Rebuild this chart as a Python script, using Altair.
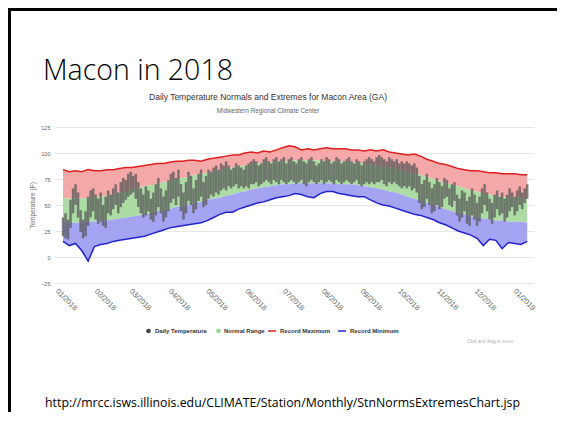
import json
import altair as alt
import pandas as pd

# ---------------- data ----------------
# records & normals, one value every 5 days starting 01 Jan 2018 (day 0)
grid_days = list(range(0, 371, 5))
record_max = [84, 82, 83, 82, 84, 83, 83, 84, 84, 85,
              86, 86, 87, 88, 89, 90, 90, 91, 92, 92,
              93, 93, 92, 94, 95, 96, 97, 98, 98, 100,
              101, 100, 102, 101, 103, 105, 107, 106, 103, 104,
              103, 104, 105, 104, 104, 104, 103, 103, 102, 103,
              102, 103, 101, 100, 99, 98, 99, 97, 94, 92,
              90, 89, 87, 85, 84, 83, 83, 82, 81, 81,
              80, 80, 80, 79, 79]
record_min = [15, 11, 13, 6, -4, 10, 12, 13, 15, 16,
              17, 18, 19, 20, 22, 24, 26, 28, 29, 30,
              31, 32, 33, 35, 38, 41, 43, 43, 46, 48,
              50, 52, 53, 55, 57, 58, 59, 61, 60, 58,
              57, 61, 63, 63, 61, 60, 59, 58, 58, 55,
              52, 50, 49, 47, 45, 43, 41, 40, 38, 36,
              33, 31, 28, 25, 23, 21, 18, 11, 17, 16,
              8, 14, 13, 12, 15]
normal_high = [57, 56, 56, 56, 57, 58, 58, 59, 60, 62,
               63, 65, 66, 68, 69, 70, 72, 73, 75, 76,
               77, 79, 80, 81, 82, 84, 85, 86, 87, 88,
               89, 90, 91, 91, 92, 92, 92, 93, 93, 93,
               93, 93, 92, 92, 92, 92, 91, 91, 90, 89,
               88, 87, 86, 85, 83, 82, 80, 79, 77, 75,
               73, 71, 70, 68, 66, 64, 63, 61, 60, 59,
               58, 57, 57, 57, 56]
normal_low = [34, 33, 33, 33, 34, 34, 35, 35, 36, 37,
              38, 39, 40, 41, 42, 44, 45, 46, 48, 49,
              50, 52, 53, 55, 56, 57, 59, 60, 62, 63,
              65, 66, 67, 68, 69, 70, 70, 71, 71, 71,
              71, 71, 71, 71, 70, 70, 70, 69, 68, 67,
              66, 65, 63, 62, 60, 58, 56, 54, 52, 50,
              48, 46, 44, 42, 41, 39, 38, 37, 36, 35,
              35, 34, 34, 34, 33]

# observed daily range, one bar every 2 days starting 01 Jan 2018
obs_days = list(range(0, 371, 2))
daily_high = [38, 42, 36, 55, 66, 70, 62, 45, 36, 44, 58, 64, 66, 60, 56, 62,
              50, 58, 64, 60, 66, 70, 62, 72, 76, 74, 80, 82, 78, 80,
              72, 66, 60, 68, 64, 56, 62, 70, 76, 66, 58, 64, 74, 80, 82,
              76, 84, 70, 62, 72, 82, 78, 66, 74, 80, 84, 72, 78, 84, 82,
              86, 88, 84, 90, 88, 92, 88, 84, 86, 90, 88, 86, 84, 88, 90, 92,
              94, 92, 88, 90, 94, 96, 92, 90, 94, 96, 92, 94, 96, 90, 94,
              96, 92, 90, 94, 96, 92, 90, 94, 96, 92, 88, 90, 94, 92, 96,
              94, 90, 92, 96, 94, 90, 92, 94, 96, 92, 90, 94, 92, 88, 92, 94,
              96, 94, 92, 96, 98, 96, 94, 92, 96, 94, 92, 94, 90, 92, 90,
              92, 90, 88, 90, 86, 78, 70, 74, 80, 72, 66, 70, 76, 72, 68,
              76, 74, 66, 70, 72, 60, 56, 64, 62, 54, 58, 66, 60, 52, 58,
              66, 70, 62, 56, 52, 60, 64, 58, 62, 56, 60, 66, 62, 58, 64, 68, 62, 66, 70]
daily_low = [20, 18, 17, 28, 42, 50, 38, 24, 18, 20, 30, 38, 44, 36, 32, 34,
             30, 28, 42, 40, 46, 50, 42, 48, 52, 55, 58, 60, 62, 56,
             48, 42, 38, 40, 44, 36, 34, 40, 48, 42, 34, 38, 44, 52, 56,
             50, 58, 44, 36, 42, 54, 50, 42, 46, 54, 58, 48, 50, 56, 60,
             58, 62, 60, 64, 66, 64, 68, 66, 68, 70, 66, 68, 66, 68, 66, 70,
             70, 72, 68, 70, 72, 74, 72, 70, 74, 72, 70, 74, 72, 70, 72,
             74, 72, 70, 72, 74, 70, 68, 72, 74, 72, 70, 72, 74, 70, 72,
             74, 72, 70, 74, 72, 70, 72, 74, 72, 70, 72, 74, 70, 68, 70, 72,
             70, 72, 70, 72, 72, 74, 70, 68, 72, 70, 72, 70, 68, 66, 68,
             66, 68, 64, 66, 62, 52, 46, 48, 56, 50, 42, 44, 50, 46, 48,
             56, 58, 50, 48, 54, 40, 34, 38, 44, 32, 30, 40, 36, 30, 34,
             42, 50, 44, 36, 32, 38, 46, 40, 42, 34, 38, 44, 48, 40, 44, 50, 46, 52, 56]

month_tick_days = [0, 31, 59, 90, 120, 151, 181, 212, 243, 273, 304, 334, 365]
month_tick_labels = ["01/2018", "02/2018", "03/2018", "04/2018", "05/2018", "06/2018",
                     "07/2018", "08/2018", "09/2018", "10/2018", "11/2018", "12/2018", "01/2019"]
y_ticks = [-25, 0, 25, 50, 75, 100, 125]

legend_labels = ["Daily Temperature", "Normal Range", "Record Maximum", "Record Minimum"]

# ---------------- tables ----------------
clim = pd.DataFrame({"day": grid_days, "rmax": record_max, "rmin": record_min,
                     "nhi": normal_high, "nlo": normal_low})
obs = pd.DataFrame({"day": obs_days, "hi": daily_high, "lo": daily_low})

W, H = 479, 156
xscale = alt.Scale(domain=[-6.4, 375.4], nice=False, zero=False)
yscale = alt.Scale(domain=[-25, 125], nice=False, zero=False)

label_expr = "%s[indexof(%s, datum.value)]" % (json.dumps(month_tick_labels), json.dumps(month_tick_days))
xaxis = alt.Axis(values=month_tick_days, labelExpr=label_expr, title="")
yaxis = alt.Axis(values=y_ticks, title="Temperature (F)")

X = alt.X("day:Q", scale=xscale, axis=xaxis)


def Y(field):
    return alt.Y(field, scale=yscale, axis=yaxis)


red_fill = alt.Chart(clim).mark_area(color="#f5a8a8", opacity=1).encode(x=X, y=Y("nhi:Q"), y2="rmax:Q")
green_fill = alt.Chart(clim).mark_area(color="#acdca4", opacity=1).encode(x=X, y=Y("nlo:Q"), y2="nhi:Q")
blue_fill = alt.Chart(clim).mark_area(color="#a4a4f2", opacity=1).encode(x=X, y=Y("rmin:Q"), y2="nlo:Q")

bars = alt.Chart(obs).mark_rule(color="#555555", strokeWidth=2.5, opacity=0.72).encode(
    x=X, y=Y("lo:Q"), y2="hi:Q")

red_line = alt.Chart(clim).mark_line(color="#dd2020", strokeWidth=1.5).encode(x=X, y=Y("rmax:Q"))
blue_line = alt.Chart(clim).mark_line(color="#2323cc", strokeWidth=1.5).encode(x=X, y=Y("rmin:Q"))


def txt(s, x, y, size, color, align="left", baseline="middle", font="Liberation Sans", weight="normal"):
    return alt.Chart(pd.DataFrame({"t": [s]})).mark_text(
        align=align, baseline=baseline, fontSize=size, color=color, font=font, fontWeight=weight
    ).encode(x=alt.value(x), y=alt.value(y), text="t:N")


one = pd.DataFrame({"a": [0]})


def box(x1, x2, y1, y2, color):
    return alt.Chart(one).mark_rect(color=color, opacity=1).encode(
        x=alt.value(x1), x2=alt.value(x2), y=alt.value(y1), y2=alt.value(y2))


slide_title = txt("Macon in 2018", -12, -47, 28.5, "#000000", baseline="alphabetic", font="Open Sans", weight=300)
chart_title = txt("Daily Temperature Normals and Extremes for Macon Area (GA)", 213, -30, 8.5, "#333333", align="center")
chart_sub = txt("Midwestern Regional Climate Center", 213, -16, 6.3, "#666666", align="center")
url = txt("http://mrcc.isws.illinois.edu/CLIMATE/Station/Monthly/StnNormsExtremesChart.jsp",
          227.5, 276, 12.3, "#000000", align="center", font="Open Sans")
zoom_note = txt("Click and drag to zoom", 458, 215, 4.5, "#b0b0b0", align="right")

ly = 204
leg_dot1 = alt.Chart(one).mark_point(filled=True, shape="circle", size=22, color="#434348", opacity=1).encode(
    x=alt.value(93.5), y=alt.value(ly))
leg_dot2 = alt.Chart(one).mark_point(filled=True, shape="circle", size=22, color="#93d88c", opacity=1).encode(
    x=alt.value(163.5), y=alt.value(ly))
leg_l1 = box(213, 221, ly - 0.75, ly + 0.75, "#dd2020")
leg_l2 = box(283, 291, ly - 0.75, ly + 0.75, "#2323cc")
leg_t1 = txt(legend_labels[0], 100, ly, 6, "#333333", weight="bold")
leg_t2 = txt(legend_labels[1], 169, ly, 6, "#333333", weight="bold")
leg_t3 = txt(legend_labels[2], 225, ly, 6, "#333333", weight="bold")
leg_t4 = txt(legend_labels[3], 295, ly, 6, "#333333", weight="bold")

border_top = box(-47, 560, -119, -116, "#000000")
border_left = box(-47, -44, -119, 360, "#000000")

chart = alt.layer(
    red_fill, green_fill, blue_fill, bars, red_line, blue_line,
    slide_title, chart_title, chart_sub, url, zoom_note,
    leg_dot1, leg_dot2, leg_l1, leg_l2, leg_t1, leg_t2, leg_t3, leg_t4,
    border_top, border_left,
).properties(
    width=W, height=H,
    autosize=alt.AutoSizeParams(type="none"),
    padding={"left": 47, "top": 119, "right": 23, "bottom": 129},
    background="#ffffff",
).configure_view(
    stroke=None
).configure_axis(
    labelOverlap=False, labelFont="Liberation Sans", titleFont="Liberation Sans",
    labelColor="#666666", titleColor="#666666", titleFontWeight="normal", ticks=False,
).configure_axisX(
    labelAngle=45, labelAlign="left", labelBaseline="top", labelFontSize=7.5, labelPadding=4,
    labelOffset=-4, grid=False, domainColor="#e3e3e3",
).configure_axisY(
    labelFontSize=5.5, labelPadding=5, grid=True, gridColor="#e6e6e6", domain=False,
    titleFontSize=6.5, titlePadding=5,
)

chart.save("out.html", embed_options={"renderer": "svg", "actions": False})
